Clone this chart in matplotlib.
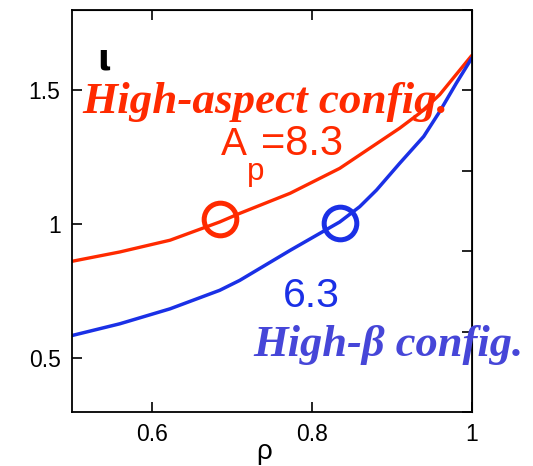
import matplotlib
matplotlib.use("Agg")
import matplotlib.pyplot as plt

# rotational transform profiles iota(rho) for the two configurations
rho_aspect = [0.5, 0.560, 0.623, 0.685, 0.710, 0.773, 0.835, 0.910, 0.935, 0.960, 1.0]
iota_aspect = [0.862, 0.897, 0.941, 1.009, 1.041, 1.116, 1.209, 1.359, 1.415, 1.484, 1.63]

rho_beta = [0.5, 0.560, 0.623, 0.685, 0.710, 0.773, 0.835, 0.860, 0.881, 0.910,
            0.940, 0.960, 0.981, 1.0]
iota_beta = [0.585, 0.629, 0.685, 0.754, 0.791, 0.903, 1.009, 1.066, 1.128, 1.228,
             1.328, 1.421, 1.528, 1.62]

# operating points marked on each curve
mark_aspect = (0.685, 1.02)
mark_beta = (0.835, 1.005)

xticks = [0.6, 0.8, 1.0]
xticklabels = ["0.6", "0.8", "1"]
yticks = [0.5, 1.0, 1.5]
yticklabels = ["0.5", "1", "1.5"]
yticks_right = [0.3, 0.6, 0.9, 1.2, 1.5, 1.8]

RED = "#ff2a00"
BLUE = "#1a30e6"
BLUE_TEXT = "#4646d8"

plt.rcParams["font.family"] = ["Liberation Sans", "DejaVu Sans"]

fig = plt.figure(figsize=(5.33, 4.66), dpi=100)
ax = fig.add_axes([0.1345, 0.1159, 0.7505, 0.8627])

ax.plot(rho_aspect, iota_aspect, color=RED, lw=2.4, solid_capstyle="round",
        solid_joinstyle="round")
ax.plot(rho_beta, iota_beta, color=BLUE, lw=2.5, solid_capstyle="round",
        solid_joinstyle="round")
ax.plot(*mark_aspect, "o", ms=23.5, mfc="none", mec=RED, mew=3.6)
ax.plot(*mark_beta, "o", ms=23.5, mfc="none", mec=BLUE, mew=3.6)

ax.set_xlim(0.5, 1.0)
ax.set_ylim(0.3, 1.8)
ax.set_xticks(xticks, xticklabels)
ax.set_yticks(yticks, yticklabels)
ax.tick_params(direction="in", length=7.5, width=1.2, labelsize=16.5, pad=8)
for s in ax.spines.values():
    s.set_linewidth(1.3)

# extra inward ticks on the top and right frame
top = ax.secondary_xaxis("top")
top.set_xticks(xticks)
top.tick_params(direction="in", length=7.5, width=1.2, labeltop=False)
right = ax.secondary_yaxis("right")
right.set_yticks(yticks_right)
right.tick_params(direction="in", length=7.5, width=1.2, labelright=False)

ax.set_xlabel("ρ", fontsize=20)
ax.xaxis.set_label_coords(0.48, -0.068)

ax.text(0.540, 1.615, "ι", fontsize=25, fontweight="bold", ha="center",
        va="center", family=["DejaVu Sans"])

serif = ["Liberation Serif", "DejaVu Serif"]
ax.text(0.513, 1.415, "High-aspect config.", color=RED, fontsize=32.5,
        fontweight="bold", fontstyle="italic", family=serif, va="baseline")
ax.text(0.727, 0.510, "High-β config.", color=BLUE_TEXT, fontsize=32,
        fontweight="bold", fontstyle="italic", family=serif, va="baseline")

ax.text(0.687, 1.259, "A", color=RED, fontsize=28, va="baseline")
ax.text(0.719, 1.165, "p", color=RED, fontsize=22.5, va="baseline")
ax.text(0.737, 1.259, "=8.3", color=RED, fontsize=30, va="baseline")
ax.text(0.764, 0.690, "6.3", color=BLUE, fontsize=29.5, va="baseline")

fig.savefig("out.png", dpi=100)
